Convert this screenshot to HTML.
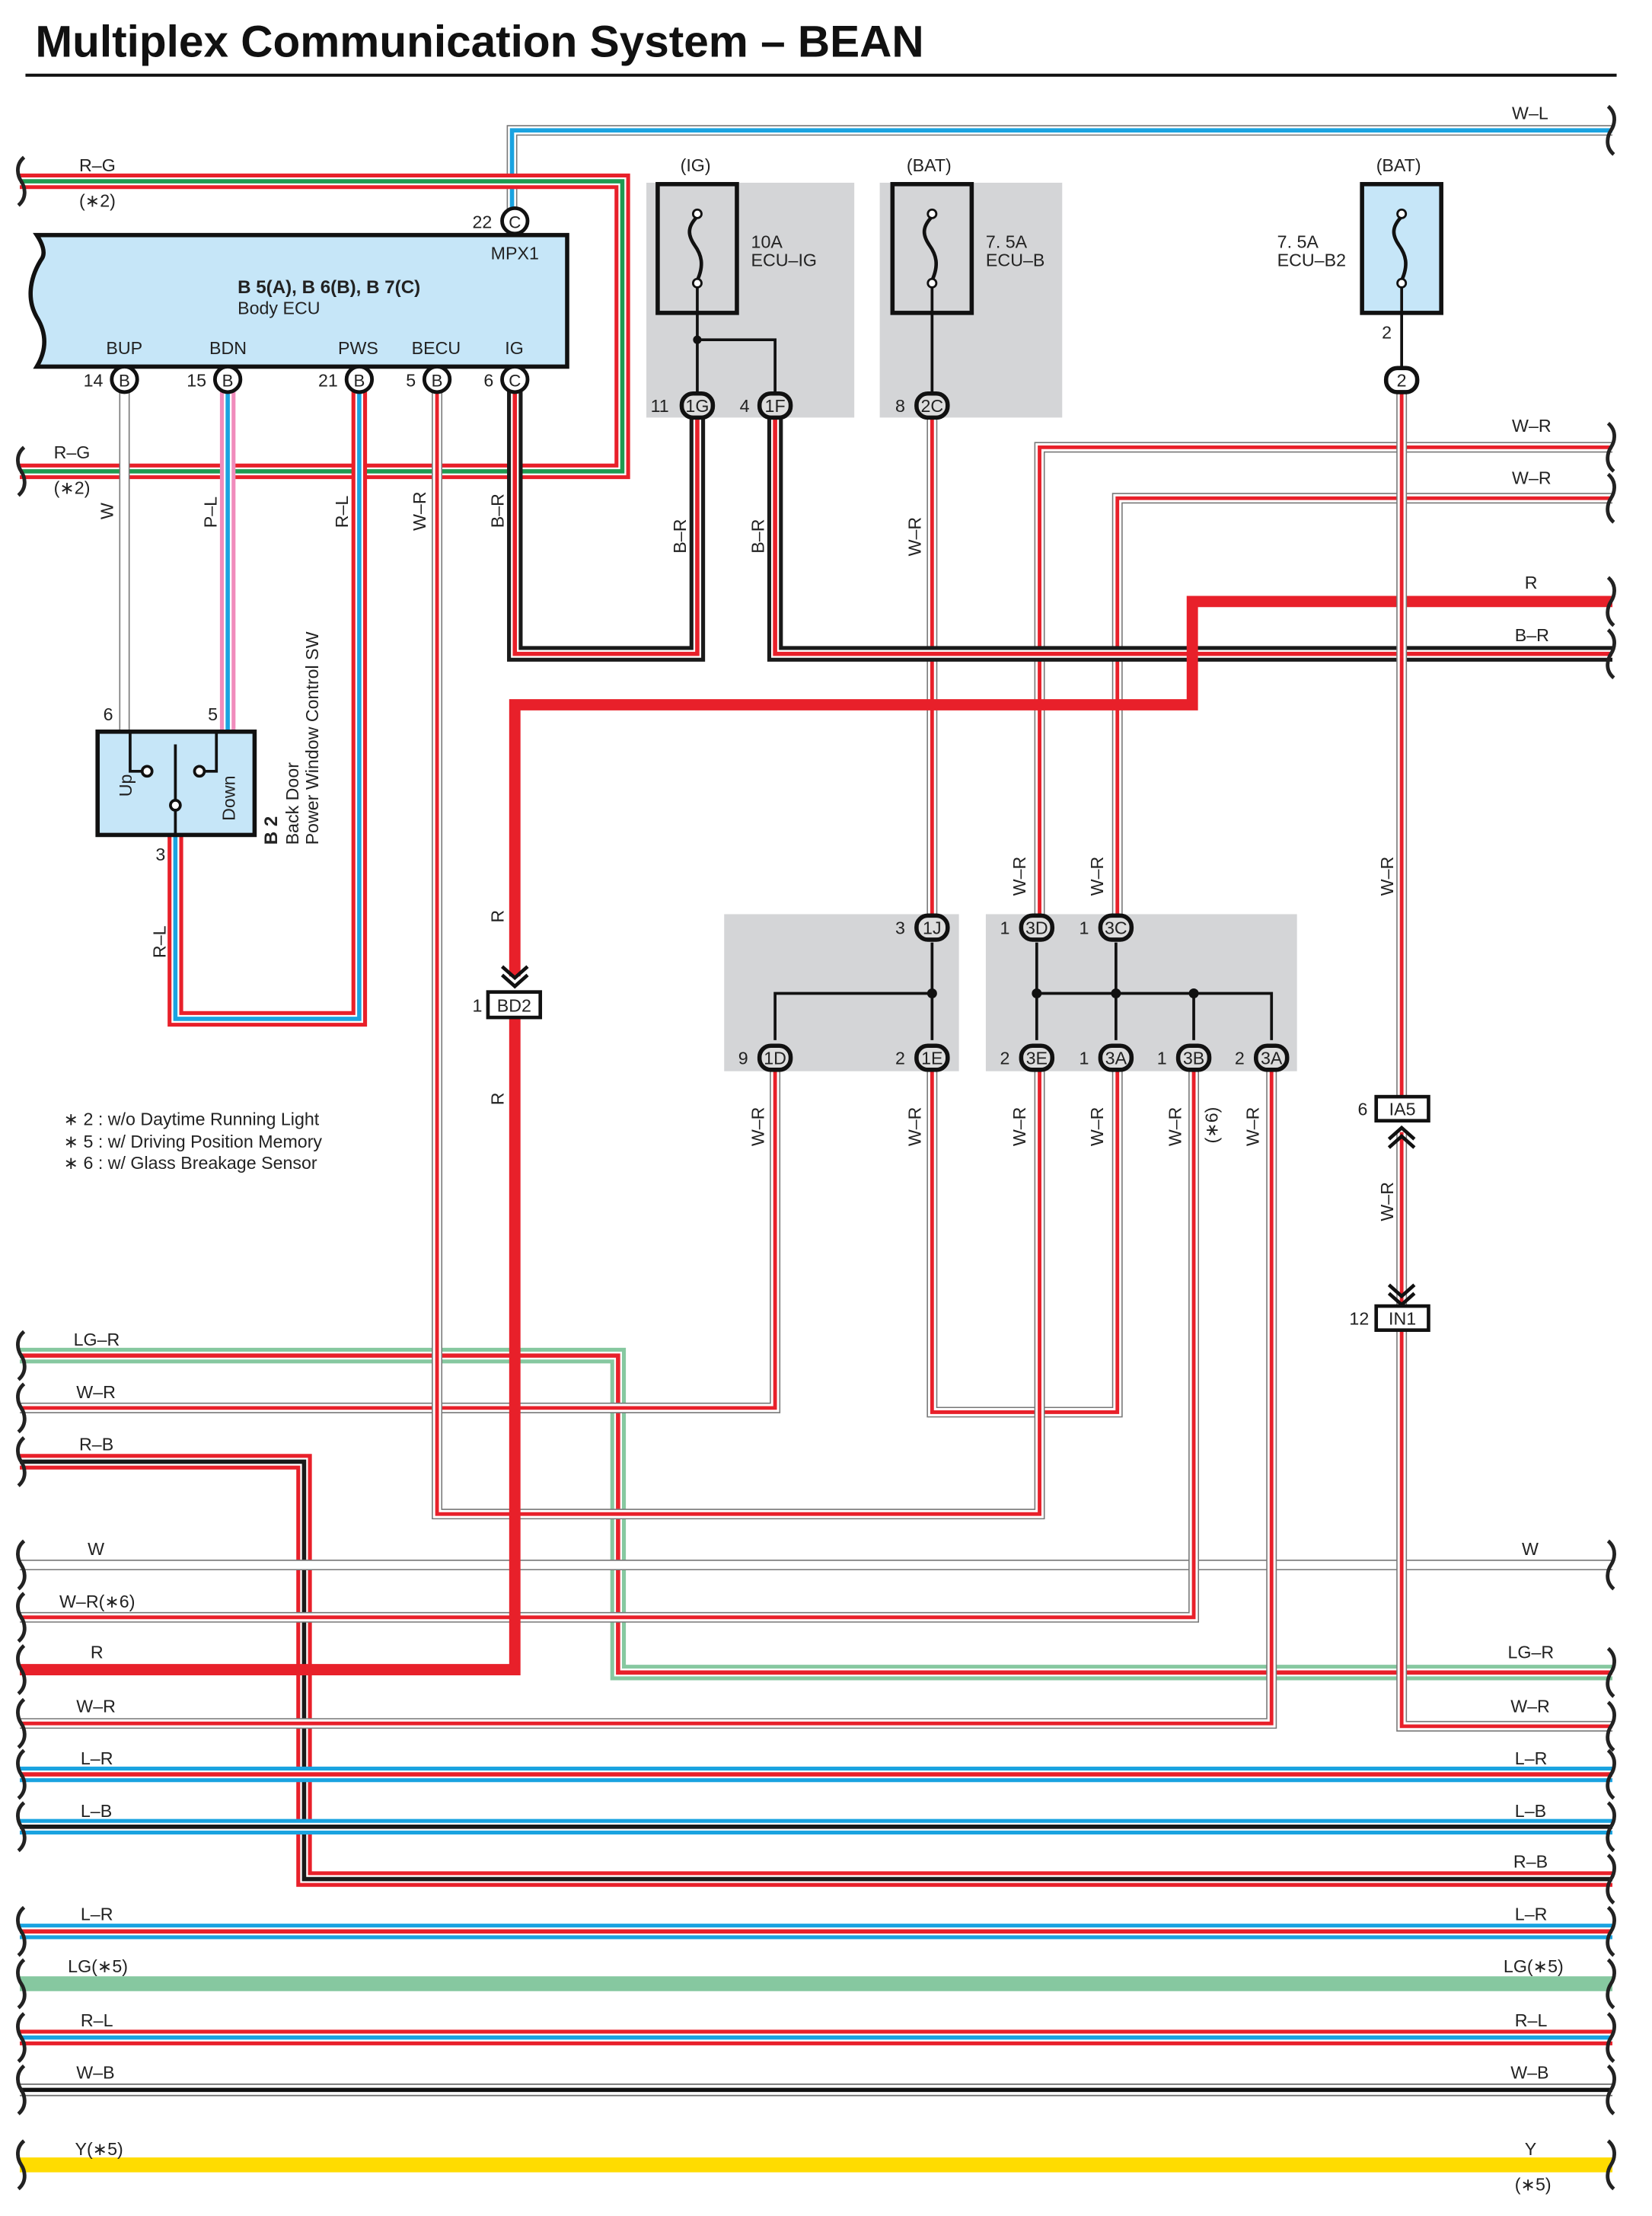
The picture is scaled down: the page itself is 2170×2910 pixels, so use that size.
<!DOCTYPE html>
<html><head><meta charset="utf-8"><style>
html,body{margin:0;padding:0;background:#fff}
svg{display:block}
text{font-family:"Liberation Sans",sans-serif;font-size:12.5px;fill:#222}
use{fill:none}
.gO{stroke:#777;stroke-width:7.5}.wM{stroke:#fff;stroke-width:5.8}.rI{stroke:#e8202a;stroke-width:2.6}
.rO{stroke:#e8202a;stroke-width:11}.lO{stroke:#1aa3e0;stroke-width:11}.lgO{stroke:#86c8a0;stroke-width:11}.kO{stroke:#1a1a1a;stroke-width:11}.pO{stroke:#f08cbc;stroke-width:11}
.wB{stroke:#fff;stroke-width:5.5}
.gI{stroke:#1e9a50;stroke-width:3}.lI{stroke:#1aa3e0;stroke-width:3}.kI{stroke:#1a1a1a;stroke-width:3}.rI3{stroke:#e8202a;stroke-width:3}
.solR{stroke:#e8202a;stroke-width:8}.solLG{stroke:#86c8a0;stroke-width:10.5}.solY{stroke:#ffdc00;stroke-width:10.5}
.br{fill:none;stroke:#222;stroke-width:2.6}
.pin{fill:#fff;stroke:#111;stroke-width:2.6}
.ov{fill:#ddd;stroke:#111;stroke-width:3}
.ln{fill:none;stroke:#111;stroke-width:2}
</style></head><body>
<svg width="2170" height="2910" viewBox="0 0 1168 1566" xmlns="http://www.w3.org/2000/svg">
<defs>
<path id="wl" d="M362,156 V92 H1140"/>
<path id="rg" d="M14,128 H440 V333 H14"/>
<path id="w14" d="M88,268 V516"/>
<path id="pl" d="M161,268 V516"/>
<path id="rl" d="M124,590 V720 H254 V268"/>
<path id="becu" d="M309,268 V1070 H735 V747"/>
<path id="ig6" d="M364,268 V462 H493 V286"/>
<path id="br2" d="M548,286 V462 H1140"/>
<path id="w2c" d="M659,286 V655"/>
<path id="w3d" d="M1140,316 H735 V655"/>
<path id="w3c" d="M1140,352 H790 V655"/>
<path id="wb2" d="M991,268 V784"/>
<path id="wia" d="M991,800 V932"/>
<path id="win" d="M991,940 V1220 H1140"/>
<path id="w1d" d="M548,747 V995 H14"/>
<path id="w1e" d="M659,747 V998 H790 V747"/>
<path id="w3b" d="M844,747 V1143 H14"/>
<path id="w3a" d="M899,747 V1218 H14"/>
<path id="lgr" d="M14,958 H437 V1182 H1140"/>
<path id="rb" d="M14,1033 H215 V1328 H1140"/>
<path id="ww" d="M14,1106 H1140"/>
<path id="lr1" d="M14,1254 H1140"/>
<path id="lb" d="M14,1291 H1140"/>
<path id="lr2" d="M14,1365 H1140"/>
<path id="rl2" d="M14,1440 H1140"/>
<path id="wb" d="M14,1477 H1140"/>
<path id="arrD" d="M-7,-9 L0,-4 L7,-9 L7,-2 L0,5 L-7,-2 Z"/>
</defs>

<text x="25" y="40" style="font-size:31.5px;font-weight:bold;fill:#111">Multiplex Communication System – BEAN</text>
<line x1="18" y1="53" x2="1143" y2="53" stroke="#111" stroke-width="2.2"/>

<rect x="457" y="129" width="147" height="166" fill="#d4d5d7"/>
<rect x="622" y="129" width="129" height="166" fill="#d4d5d7"/>
<rect x="512" y="646" width="166" height="111" fill="#d4d5d7"/>
<rect x="697" y="646" width="220" height="111" fill="#d4d5d7"/>

<use href="#wl" class="gO"/><use href="#wl" class="wM"/><use href="#wl" class="lI"/>
<use href="#rg" class="rO"/><use href="#rg" class="wB"/><use href="#rg" class="gI"/>
<use href="#lgr" class="lgO"/><use href="#lgr" class="wB"/><use href="#lgr" class="rI3"/>
<use href="#rb" class="rO"/><use href="#rb" class="wB"/><use href="#rb" class="kI"/>
<use href="#ww" class="gO"/><use href="#ww" class="wM"/>
<use href="#w1d" class="gO"/><use href="#w1d" class="wM"/><use href="#w1d" class="rI"/>
<use href="#w1e" class="gO"/><use href="#w1e" class="wM"/><use href="#w1e" class="rI"/>
<use href="#w3b" class="gO"/><use href="#w3b" class="wM"/><use href="#w3b" class="rI"/>
<use href="#w3a" class="gO"/><use href="#w3a" class="wM"/><use href="#w3a" class="rI"/>
<use href="#becu" class="gO"/><use href="#becu" class="wM"/><use href="#becu" class="rI"/>
<use href="#w3d" class="gO"/><use href="#w3d" class="wM"/><use href="#w3d" class="rI"/>
<use href="#w3c" class="gO"/><use href="#w3c" class="wM"/><use href="#w3c" class="rI"/>
<use href="#w2c" class="gO"/><use href="#w2c" class="wM"/><use href="#w2c" class="rI"/>
<use href="#ig6" class="kO"/><use href="#ig6" class="wB"/><use href="#ig6" class="rI3"/>
<use href="#br2" class="kO"/><use href="#br2" class="wB"/><use href="#br2" class="rI3"/>
<path d="M1140,425 H843 V498 H364 V690" fill="none" class="solR"/>
<path d="M364,719 V1180 H14" fill="none" class="solR"/>
<use href="#wb2" class="gO"/><use href="#wb2" class="wM"/><use href="#wb2" class="rI"/>
<use href="#wia" class="gO"/><use href="#wia" class="wM"/><use href="#wia" class="rI"/>
<use href="#win" class="gO"/><use href="#win" class="wM"/><use href="#win" class="rI"/>
<use href="#w14" class="gO"/><use href="#w14" class="wM"/>
<use href="#pl" class="pO"/><use href="#pl" class="wB"/><use href="#pl" class="lI"/>
<use href="#rl" class="rO"/><use href="#rl" class="wB"/><use href="#rl" class="lI"/>
<use href="#lr1" class="lO"/><use href="#lr1" class="wB"/><use href="#lr1" class="rI3"/>
<use href="#lb" class="lO"/><use href="#lb" class="wB"/><use href="#lb" class="kI"/>
<use href="#lr2" class="lO"/><use href="#lr2" class="wB"/><use href="#lr2" class="rI3"/>
<path d="M14,1402 H1140" class="solLG"/>
<use href="#rl2" class="rO"/><use href="#rl2" class="wB"/><use href="#rl2" class="lI"/>
<path d="M14,1477 H1140" stroke="#777" stroke-width="9"/><path d="M14,1477 H1140" stroke="#fff" stroke-width="7"/><path d="M14,1477 H1140" stroke="#111" stroke-width="3"/>
<path d="M14,1530 H1140" class="solY"/>

<g class="br">
<path d="M17,111 c-7,6 -4,14 -2,17 c2,3 5,11 -2,17"/>
<path d="M17,316 c-7,6 -4,14 -2,17 c2,3 5,11 -2,17"/>
<path d="M17,941 c-7,6 -4,14 -2,17 c2,3 5,11 -2,17"/>
<path d="M17,978 c-7,6 -4,14 -2,17 c2,3 5,11 -2,17"/>
<path d="M17,1016 c-7,6 -4,14 -2,17 c2,3 5,11 -2,17"/>
<path d="M17,1089 c-7,6 -4,14 -2,17 c2,3 5,11 -2,17"/>
<path d="M17,1126 c-7,6 -4,14 -2,17 c2,3 5,11 -2,17"/>
<path d="M17,1163 c-7,6 -4,14 -2,17 c2,3 5,11 -2,17"/>
<path d="M17,1201 c-7,6 -4,14 -2,17 c2,3 5,11 -2,17"/>
<path d="M17,1237 c-7,6 -4,14 -2,17 c2,3 5,11 -2,17"/>
<path d="M17,1274 c-7,6 -4,14 -2,17 c2,3 5,11 -2,17"/>
<path d="M17,1348 c-7,6 -4,14 -2,17 c2,3 5,11 -2,17"/>
<path d="M17,1385 c-7,6 -4,14 -2,17 c2,3 5,11 -2,17"/>
<path d="M17,1423 c-7,6 -4,14 -2,17 c2,3 5,11 -2,17"/>
<path d="M17,1460 c-7,6 -4,14 -2,17 c2,3 5,11 -2,17"/>
<path d="M17,1513 c-7,6 -4,14 -2,17 c2,3 5,11 -2,17"/>
<path d="M1137,75 c7,6 4,14 2,17 c-2,3 -5,11 2,17"/>
<path d="M1137,299 c7,6 4,14 2,17 c-2,3 -5,11 2,17"/>
<path d="M1137,335 c7,6 4,14 2,17 c-2,3 -5,11 2,17"/>
<path d="M1137,408 c7,6 4,14 2,17 c-2,3 -5,11 2,17"/>
<path d="M1137,445 c7,6 4,14 2,17 c-2,3 -5,11 2,17"/>
<path d="M1137,1089 c7,6 4,14 2,17 c-2,3 -5,11 2,17"/>
<path d="M1137,1165 c7,6 4,14 2,17 c-2,3 -5,11 2,17"/>
<path d="M1137,1203 c7,6 4,14 2,17 c-2,3 -5,11 2,17"/>
<path d="M1137,1237 c7,6 4,14 2,17 c-2,3 -5,11 2,17"/>
<path d="M1137,1274 c7,6 4,14 2,17 c-2,3 -5,11 2,17"/>
<path d="M1137,1311 c7,6 4,14 2,17 c-2,3 -5,11 2,17"/>
<path d="M1137,1348 c7,6 4,14 2,17 c-2,3 -5,11 2,17"/>
<path d="M1137,1385 c7,6 4,14 2,17 c-2,3 -5,11 2,17"/>
<path d="M1137,1423 c7,6 4,14 2,17 c-2,3 -5,11 2,17"/>
<path d="M1137,1460 c7,6 4,14 2,17 c-2,3 -5,11 2,17"/>
<path d="M1137,1513 c7,6 4,14 2,17 c-2,3 -5,11 2,17"/>
</g>

<path d="M26,166 H401 V259 H26 c6,-10 8,-22 0,-35 c-8,-14 -4,-30 4,-42 c2,-4 0,-10 -4,-16 Z" fill="#c6e6f8" stroke="#111" stroke-width="3"/>
<text x="168" y="207" style="font-weight:bold;font-size:13px">B 5(A), B 6(B), B 7(C)</text>
<text x="168" y="222">Body ECU</text>
<text x="347" y="183">MPX1</text>
<text x="75" y="250">BUP</text><text x="148" y="250">BDN</text><text x="239" y="250">PWS</text><text x="291" y="250">BECU</text><text x="357" y="250">IG</text>
<g>
<circle cx="364" cy="156" r="9" class="pin"/><text x="364" y="161" text-anchor="middle" style="font-size:12px">C</text><text x="334" y="161">22</text>
<circle cx="88" cy="268" r="9" class="pin"/><text x="88" y="273" text-anchor="middle" style="font-size:12px">B</text><text x="59" y="273">14</text>
<circle cx="161" cy="268" r="9" class="pin"/><text x="161" y="273" text-anchor="middle" style="font-size:12px">B</text><text x="132" y="273">15</text>
<circle cx="254" cy="268" r="9" class="pin"/><text x="254" y="273" text-anchor="middle" style="font-size:12px">B</text><text x="225" y="273">21</text>
<circle cx="309" cy="268" r="9" class="pin"/><text x="309" y="273" text-anchor="middle" style="font-size:12px">B</text><text x="287" y="273">5</text>
<circle cx="364" cy="268" r="9" class="pin"/><text x="364" y="273" text-anchor="middle" style="font-size:12px">C</text><text x="342" y="273">6</text>
</g>

<rect x="69" y="517" width="111" height="73" fill="#c6e6f8" stroke="#111" stroke-width="3"/>
<path d="M92,517 V545 H103 M153,517 V545 H142 M124,526 V590" class="ln" stroke-width="2.5"/>
<circle cx="104" cy="545" r="3.5" fill="#fff" stroke="#111" stroke-width="2"/>
<circle cx="141" cy="545" r="3.5" fill="#fff" stroke="#111" stroke-width="2"/>
<circle cx="124" cy="569" r="3.5" fill="#fff" stroke="#111" stroke-width="2"/>
<text transform="translate(93,563) rotate(-90)">Up</text>
<text transform="translate(166,580) rotate(-90)">Down</text>
<text transform="translate(196,597) rotate(-90)" style="font-weight:bold;font-size:13px">B 2</text>
<text transform="translate(211,597) rotate(-90)">Back Door</text>
<text transform="translate(225,597) rotate(-90)">Power Window Control SW</text>
<text x="73" y="509">6</text><text x="147" y="509">5</text><text x="110" y="608">3</text>

<g stroke="#111" fill="none" stroke-width="2.5">
<rect x="465" y="130" width="56" height="91" fill="#d4d5d7" stroke-width="3"/>
<rect x="631" y="130" width="56" height="91" fill="#d4d5d7" stroke-width="3"/>
<rect x="963" y="130" width="56" height="91" fill="#c6e6f8" stroke-width="3"/>
<path d="M493,153 c-8,8 -6,14 -2,20 c5,7 7,14 2,25"/>
<path d="M659,153 c-8,8 -6,14 -2,20 c5,7 7,14 2,25"/>
<path d="M991,153 c-8,8 -6,14 -2,20 c5,7 7,14 2,25"/>
<path d="M493,200 V278 M493,240 H548 V278 M659,200 V278 M991,200 V260" stroke-width="2"/>
</g>
<g fill="#fff" stroke="#111" stroke-width="1.5">
<circle cx="493" cy="151" r="3"/><circle cx="493" cy="200" r="3"/>
<circle cx="659" cy="151" r="3"/><circle cx="659" cy="200" r="3"/>
<circle cx="991" cy="151" r="3"/><circle cx="991" cy="200" r="3"/>
</g>
<circle cx="493" cy="240" r="3" fill="#111"/>
<text x="481" y="121">(IG)</text><text x="641" y="121">(BAT)</text><text x="973" y="121">(BAT)</text>
<text x="531" y="175">10A</text><text x="531" y="188">ECU–IG</text>
<text x="697" y="175">7. 5A</text><text x="697" y="188">ECU–B</text>
<text x="903" y="175">7. 5A</text><text x="903" y="188">ECU–B2</text>
<text x="977" y="239">2</text>

<g fill="#111">
<use href="#arrD" transform="translate(493,272)"/>
<use href="#arrD" transform="translate(548,272)"/>
<use href="#arrD" transform="translate(659,272)"/>
<use href="#arrD" transform="translate(991,254)"/>
<use href="#arrD" transform="translate(659,673) rotate(180)"/>
<use href="#arrD" transform="translate(733,673) rotate(180)"/>
<use href="#arrD" transform="translate(789,673) rotate(180)"/>
<use href="#arrD" transform="translate(548,733)"/>
<use href="#arrD" transform="translate(659,733)"/>
<use href="#arrD" transform="translate(733,733)"/>
<use href="#arrD" transform="translate(789,733)"/>
<use href="#arrD" transform="translate(844,733)"/>
<use href="#arrD" transform="translate(899,733)"/>
<circle cx="659" cy="702" r="3.5"/><circle cx="733" cy="702" r="3.5"/><circle cx="789" cy="702" r="3.5"/><circle cx="844" cy="702" r="3.5"/>
</g>
<path d="M659,666 V735 M548,735 V702 H659 M733,666 V735 M789,666 V735 M733,702 H899 V735 M844,702 V735" class="ln"/>
<g fill="none" stroke="#111" stroke-width="2.5">
<path d="M355,683 L364,691 L373,683 M355,689 L364,697 L373,689"/>
<path d="M982,805 L991,797 L1000,805 M982,811 L991,803 L1000,811"/>
<path d="M982,908 L991,916 L1000,908 M982,914 L991,922 L1000,914"/>
</g>

<g>
<rect x="482" y="278" width="22" height="17" rx="8" class="ov"/><text x="493" y="291" text-anchor="middle">1G</text><text x="460" y="291">11</text>
<rect x="537" y="278" width="22" height="17" rx="8" class="ov"/><text x="548" y="291" text-anchor="middle">1F</text><text x="523" y="291">4</text>
<rect x="648" y="278" width="22" height="17" rx="8" class="ov"/><text x="659" y="291" text-anchor="middle">2C</text><text x="633" y="291">8</text>
<rect x="980" y="260" width="22" height="17" rx="8" fill="#fff" stroke="#111" stroke-width="3"/><text x="991" y="273" text-anchor="middle">2</text>
<rect x="648" y="647" width="22" height="17" rx="8" class="ov"/><text x="659" y="660" text-anchor="middle">1J</text><text x="633" y="660">3</text>
<rect x="722" y="647" width="22" height="17" rx="8" class="ov"/><text x="733" y="660" text-anchor="middle">3D</text><text x="707" y="660">1</text>
<rect x="778" y="647" width="22" height="17" rx="8" class="ov"/><text x="789" y="660" text-anchor="middle">3C</text><text x="763" y="660">1</text>
<rect x="537" y="739" width="22" height="17" rx="8" class="ov"/><text x="548" y="752" text-anchor="middle">1D</text><text x="522" y="752">9</text>
<rect x="648" y="739" width="22" height="17" rx="8" class="ov"/><text x="659" y="752" text-anchor="middle">1E</text><text x="633" y="752">2</text>
<rect x="722" y="739" width="22" height="17" rx="8" class="ov"/><text x="733" y="752" text-anchor="middle">3E</text><text x="707" y="752">2</text>
<rect x="778" y="739" width="22" height="17" rx="8" class="ov"/><text x="789" y="752" text-anchor="middle">3A</text><text x="763" y="752">1</text>
<rect x="833" y="739" width="22" height="17" rx="8" class="ov"/><text x="844" y="752" text-anchor="middle">3B</text><text x="818" y="752">1</text>
<rect x="888" y="739" width="22" height="17" rx="8" class="ov"/><text x="899" y="752" text-anchor="middle">3A</text><text x="873" y="752">2</text>
</g>
<rect x="345" y="701" width="37" height="18" fill="#fff" stroke="#111" stroke-width="2.5"/><text x="363.5" y="715" text-anchor="middle">BD2</text><text x="334" y="715">1</text>
<rect x="973" y="775" width="37" height="17" fill="#fff" stroke="#111" stroke-width="2.5"/><text x="991.5" y="788" text-anchor="middle">IA5</text><text x="960" y="788">6</text>
<rect x="973" y="923" width="37" height="17" fill="#fff" stroke="#111" stroke-width="2.5"/><text x="991.5" y="936" text-anchor="middle">IN1</text><text x="954" y="936">12</text>

<text x="1069" y="84">W–L</text>
<text x="56" y="121">R–G</text><text x="56" y="146">(∗2)</text>
<text x="38" y="324">R–G</text><text x="38" y="349">(∗2)</text>
<text x="1069" y="305">W–R</text><text x="1069" y="342">W–R</text>
<text x="1078" y="416">R</text><text x="1071" y="453">B–R</text>
<g>
<text transform="translate(80,367) rotate(-90)">W</text>
<text transform="translate(153,373) rotate(-90)">P–L</text>
<text transform="translate(246,373) rotate(-90)">R–L</text>
<text transform="translate(301,375) rotate(-90)">W–R</text>
<text transform="translate(356,373) rotate(-90)">B–R</text>
<text transform="translate(485,391) rotate(-90)">B–R</text>
<text transform="translate(540,391) rotate(-90)">B–R</text>
<text transform="translate(651,393) rotate(-90)">W–R</text>
<text transform="translate(117,677) rotate(-90)">R–L</text>
<text transform="translate(356,652) rotate(-90)">R</text>
<text transform="translate(356,781) rotate(-90)">R</text>
<text transform="translate(725,633) rotate(-90)">W–R</text>
<text transform="translate(780,633) rotate(-90)">W–R</text>
<text transform="translate(985,633) rotate(-90)">W–R</text>
<text transform="translate(985,863) rotate(-90)">W–R</text>
<text transform="translate(540,810) rotate(-90)">W–R</text>
<text transform="translate(651,810) rotate(-90)">W–R</text>
<text transform="translate(725,810) rotate(-90)">W–R</text>
<text transform="translate(780,810) rotate(-90)">W–R</text>
<text transform="translate(835,810) rotate(-90)">W–R</text>
<text transform="translate(861,808) rotate(-90)">(∗6)</text>
<text transform="translate(890,810) rotate(-90)">W–R</text>
</g>
<text x="45" y="795">∗ 2 : w/o Daytime Running Light</text>
<text x="45" y="811">∗ 5 : w/ Driving Position Memory</text>
<text x="45" y="826">∗ 6 : w/ Glass Breakage Sensor</text>

<text x="52" y="951">LG–R</text><text x="54" y="988">W–R</text><text x="56" y="1025">R–B</text>
<text x="62" y="1099">W</text><text x="42" y="1136">W–R(∗6)</text><text x="64" y="1172">R</text>
<text x="54" y="1210">W–R</text><text x="57" y="1247">L–R</text><text x="57" y="1284">L–B</text>
<text x="57" y="1357">L–R</text><text x="48" y="1394">LG(∗5)</text><text x="57" y="1432">R–L</text>
<text x="54" y="1469">W–B</text><text x="53" y="1523">Y(∗5)</text>
<text x="1076" y="1099">W</text><text x="1066" y="1172">LG–R</text><text x="1068" y="1210">W–R</text>
<text x="1071" y="1247">L–R</text><text x="1071" y="1284">L–B</text><text x="1070" y="1320">R–B</text>
<text x="1071" y="1357">L–R</text><text x="1063" y="1394">LG(∗5)</text><text x="1071" y="1432">R–L</text>
<text x="1068" y="1469">W–B</text><text x="1078" y="1523">Y</text><text x="1071" y="1548">(∗5)</text>
</svg>
</body></html>
